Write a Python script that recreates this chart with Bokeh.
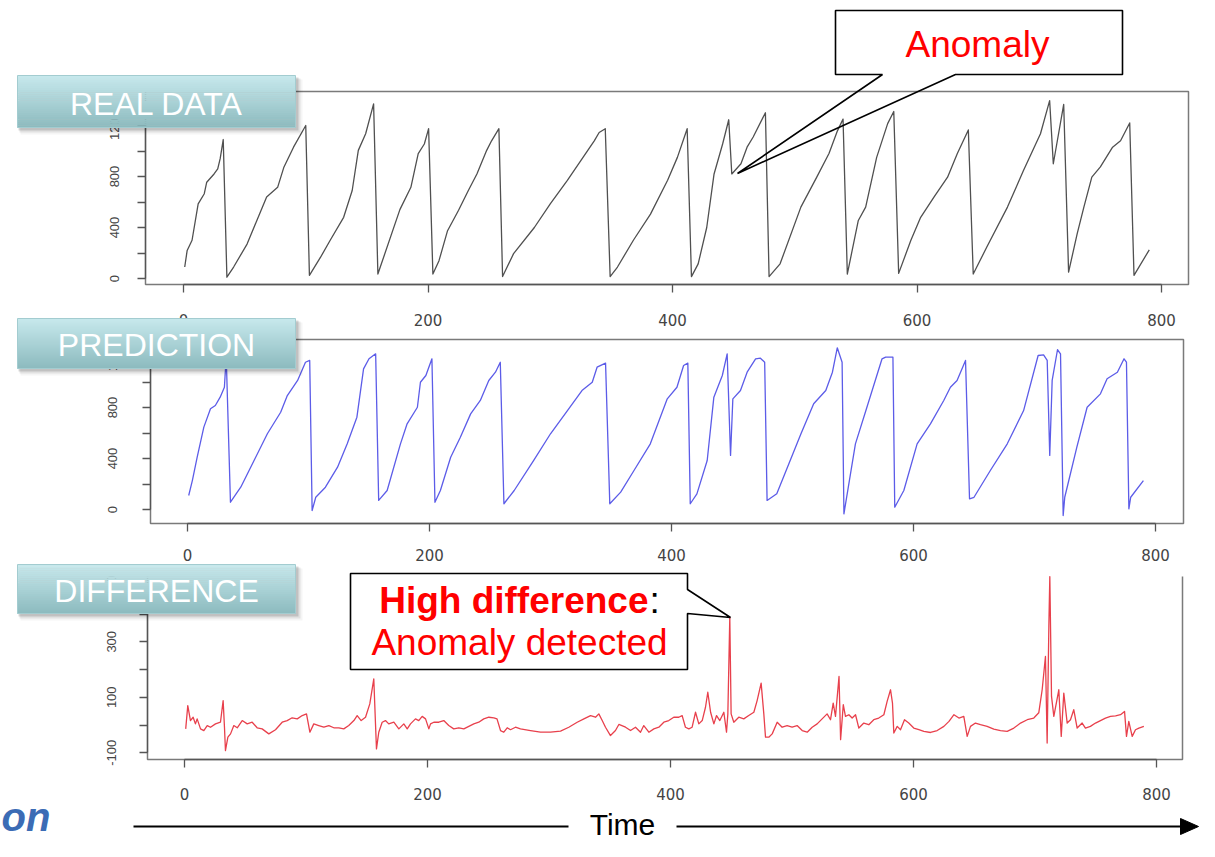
from bokeh.plotting import figure
from bokeh.models import Range1d, LinearAxis, FixedTicker
from bokeh.core.properties import value
from bokeh.embed import file_html
from bokeh.resources import INLINE

# ---------------- data ----------------
real_t = [1, 3, 7, 12, 17, 19, 25, 28, 30, 32.5, 35.5, 41, 52, 60, 68, 77, 82, 90, 100, 103, 112, 120, 131, 138,
          143, 149, 155.5, 159, 177, 186, 192, 197, 200.5, 204, 209, 216, 225, 233, 240, 248, 252, 258, 261, 270,
          287, 300, 314, 325, 336, 340, 345, 349, 355, 368, 382, 396, 404, 412, 415.5, 421, 428, 434, 441, 446,
          448.5, 456, 461, 466, 476, 479, 488, 505, 518, 528, 535, 539.5, 543, 552, 558, 567, 576, 581, 585, 595,
          603, 614, 625, 633, 642, 646, 657, 674, 687, 701, 708.5, 711.5, 720, 724, 731, 736.5, 743, 750, 760,
          766.5, 774, 777.5, 790]
real_v = [90, 220, 300, 585, 665, 755, 820, 860, 940, 1090, 10, 90, 270, 455, 640, 715, 870, 1030, 1200, 25, 165,
          300, 480, 690, 1005, 1135, 1370, 35, 540, 715, 980, 1055, 1175, 35, 140, 375, 535, 690, 820, 1005, 1080,
          1175, 15, 195, 400, 585, 770, 925, 1080, 1145, 1175, 15, 90, 300, 505, 770, 950, 1175, 15, 115, 400, 820,
          1055, 1245, 820, 900, 1030, 1110, 1300, 15, 115, 560, 795, 980, 1160, 1250, 35, 455, 560, 950, 1215,
          1310, 40, 300, 480, 640, 795, 980, 1165, 35, 245, 560, 845, 1135, 1395, 900, 1365, 50, 350, 560, 795,
          875, 1030, 1080, 1220, 25, 225]

pred_t = [1, 4, 8, 13.5, 19, 23, 27, 30.5, 32, 35.5, 44, 55, 66, 77, 82.5, 91, 97.5, 101, 103, 106, 114, 124, 132,
          140, 145.5, 150, 155.5, 158, 165, 176, 181.5, 190, 192.5, 197, 202, 204.5, 209, 217.5, 225.5, 234, 242,
          249, 254.5, 258.5, 261.5, 270, 286, 300, 314, 326, 334.5, 338.5, 345.5, 349, 358, 369, 382.5, 396.5,
          404.5, 410, 413.5, 415.5, 421, 429.5, 435, 442, 446, 448.8, 450.7, 457, 462.5, 469.5, 473.5, 477, 479,
          487, 507, 517.5, 527.5, 533, 537, 541, 542.5, 552, 561.5, 574, 577, 583, 584.5, 592, 603, 614, 625,
          630.5, 636, 643, 646.3, 650, 663.5, 677.5, 691, 703, 707.5, 710.5, 712.6, 714.6, 719, 721.5, 723.7, 725,
          735, 743.5, 754.5, 760, 768.5, 774, 776, 778, 779.5, 790]
pred_v = [110, 227, 410, 646, 790, 816, 881, 959, 1200, 57, 175, 384, 594, 763, 894, 1012, 1155, 1169, -8, 96,
          175, 332, 515, 724, 1103, 1182, 1221, 71, 149, 515, 672, 802, 998, 1051, 1182, 57, 149, 410, 567, 750,
          855, 1012, 1077, 1155, 45, 149, 384, 594, 776, 933, 998, 1116, 1148, 45, 136, 306, 515, 868, 959, 1129,
          1148, 45, 123, 384, 881, 1051, 1221, 424, 868, 933, 1077, 1182, 1187, 1155, 71, 123, 594, 829, 933,
          1077, 1268, 1155, -34, 515, 802, 1182, 1195, 1195, 18, 149, 515, 672, 855, 959, 1012, 1169, 84, 96, 306,
          515, 776, 1208, 1213, 1169, 424, 1012, 1253, 1221, -47, 96, 489, 802, 907, 1025, 1077, 1182, 1155, 5,
          96, 227]

diff_t = [1, 2.7, 4.9, 7.1, 9, 10.4, 13.2, 15.9, 18.7, 21.4, 25.5, 29.6, 31.8, 32.9, 33.7, 35.7, 37.9, 40.6, 43.4,
          47.5, 51.6, 55.7, 59.8, 63.9, 69.4, 74.9, 80.4, 84.5, 88.6, 92.8, 96.9, 100.4, 103.2, 106.4, 110.5,
          114.7, 118.8, 122.9, 127, 131.1, 135.2, 139.4, 142.1, 145.4, 149, 152.5, 155.8, 157.2, 158, 159.9, 162.7,
          165.4, 168.1, 172.3, 176.4, 180.5, 183.3, 186, 190.1, 192.8, 195.6, 198.4, 201.1, 202.5, 205.2, 209.3,
          213.4, 217.5, 221.6, 225.8, 229.9, 234, 238.1, 242.2, 246.3, 250.5, 254.6, 257.2, 260.1, 262.8, 265.6,
          268.3, 272.4, 276.5, 284.8, 293, 301.2, 309.5, 316.3, 323.2, 328.7, 334.2, 338.3, 341, 343.8, 346.5,
          350.6, 354.7, 357.5, 363, 367.1, 371.2, 375.3, 378, 382.2, 386.3, 390.4, 394.5, 398.6, 402.7, 406.8,
          409.6, 412.3, 415.1, 417.8, 420.6, 423.3, 426.1, 428.8, 430.7, 433, 435.7, 437.9, 440.6, 443.9, 446.1,
          447.2, 448.8, 449.9, 452.1, 456.2, 460.3, 464.4, 468.6, 471.3, 474.6, 476.8, 478.2, 480.9, 483.7, 487.8,
          491.9, 496, 500.1, 504.2, 508.4, 512.5, 516.6, 520.7, 524.8, 528.9, 531.7, 533.9, 535.8, 538.7, 540,
          542.2, 544, 546.8, 549.5, 552.3, 555, 559.1, 563.2, 567.3, 571.4, 575.6, 578.3, 581.1, 582.7, 583.8,
          586.6, 589.3, 592.6, 596.1, 600.2, 604.4, 608.5, 614, 619.5, 625, 629.2, 633.3, 637.4, 641.4, 644.2,
          646.9, 651, 655.1, 660.6, 666.1, 671.6, 677.1, 682.6, 688.1, 693.6, 699, 703.1, 705.9, 708.6, 710,
          711.4, 712.2, 713.6, 715.5, 719.6, 721.6, 723.7, 726.5, 729.2, 731.9, 734.7, 738.8, 741.5, 745.6, 749.8,
          753.9, 758, 762.1, 766.3, 770.4, 773.7, 775.3, 777.2, 780, 782.7, 785.5, 789.6]
diff_v = [-14, 70, 16, 28, 4, 22, -14, -20, -2, -8, 4, 10, 88, -8, -92, -44, -32, -2, -10, 16, 4, 10, -10, -14,
          -32, -17, 10, 16, 26, 22, 34, 40, -26, 4, -2, -8, -2, -10, -10, -14, -2, 16, 34, 16, 28, 76, 166, 4, -86,
          -26, 10, 16, 4, 10, -14, 4, -14, 4, 22, 16, 31, 22, -14, 4, 10, 10, 16, -2, -14, -10, -14, -5, 4, 10, 22,
          28, 26, 22, -20, -26, -10, -17, -8, -14, -20, -26, -26, -22, -8, 10, 22, 34, 28, 40, 16, -8, -38, -20, 2,
          -8, -20, -8, -26, -2, -26, -14, -8, 10, 16, 28, 28, 34, -8, -14, -8, 46, 4, 16, 64, 118, 46, 4, 34, 16,
          46, -26, 40, 388, 40, 10, 28, 22, 34, 46, 88, 151, 40, -44, -44, -32, 10, -8, -2, -8, -2, -20, -26, -8,
          4, 22, 40, 19, 79, 31, 175, -53, 73, 31, 37, 25, 37, -11, 7, 1, 19, 25, 37, 85, 127, 79, -29, -5, -17,
          19, 7, -11, -17, -23, -27, -20, -5, 13, 37, 25, 31, -41, -5, 7, 1, -5, -15, -20, -23, -11, 7, 19, 25, 44,
          127, 247, -65, 355, 535, 103, 31, 127, -41, 115, 7, 19, 55, -11, 7, -11, -5, 7, 16, 25, 31, 33, 37, 49,
          -41, 13, -41, -17, -11, -5]

x_ticks = [0, 200, 400, 600, 800]
main_y_ticks = [0, 200, 400, 600, 800, 1000, 1200]
main_y_labelled = [0, 400, 800, 1200]
diff_y_ticks = [-100, 0, 100, 200, 300, 400, 500]
diff_y_labelled = [-100, 100, 300, 500]
panel_titles = ["REAL DATA", "PREDICTION", "DIFFERENCE"]

# ---------------- canvas: default ranges are picture pixels ----------------
W, H = 1199, 841
FONT = value("Liberation Sans")

p = figure(width=W, height=H, x_range=Range1d(0, W), y_range=Range1d(H, 0),
           x_axis_type=None, y_axis_type=None, toolbar_location=None, tools="",
           output_backend="svg", min_border=0, outline_line_color=None)
p.background_fill_color = "white"
p.border_fill_color = "white"


def ty(baseline, fs):
    # Bokeh centres text vertically; shift so the alphabetic baseline lands where wanted
    return baseline - 0.3465 * fs


panels = [
    dict(t=real_t, v=real_v, color="#505050", xpx0=183, xk=1.2225, ypx0=278, yk=0.1275,
         left=145, right=1188, top=91, bottom=284, yt=main_y_ticks, yl=main_y_labelled, yb=(0, 1200),
         xs=21, ys=19, top_line=True),
    dict(t=pred_t, v=pred_v, color="#5c5ce8", xpx0=187, xk=1.21, ypx0=509, yk=0.1275,
         left=150, right=1183, top=339, bottom=523, yt=main_y_ticks, yl=main_y_labelled, yb=(0, 1200),
         xs=17, ys=26, top_line=True),
    dict(t=diff_t, v=diff_v, color="#e8404c", xpx0=184, xk=1.215, ypx0=724.5, yk=0.2775,
         left=147, right=1182, top=576, bottom=759, yt=diff_y_ticks, yl=diff_y_labelled, yb=(-100, 500),
         xs=20, ys=24, top_line=False),
]

xr, yr = {}, {}
for i, d in enumerate(panels):
    xr[f"x{i}"] = Range1d((0 - d["xpx0"]) / d["xk"], (W - d["xpx0"]) / d["xk"])
    yr[f"y{i}"] = Range1d((d["ypx0"] - H) / d["yk"], (d["ypx0"] - 0) / d["yk"])
p.extra_x_ranges = xr
p.extra_y_ranges = yr

FRAME = "#7a7a7a"
AXC = "#555555"
for i, d in enumerate(panels):
    if d["top_line"]:
        p.quad(left=d["left"], right=d["right"], top=d["top"], bottom=d["bottom"],
               fill_color=None, line_color=FRAME, line_width=1.5)
    else:
        p.line([d["left"], d["left"], d["right"], d["right"]], [d["top"], d["bottom"], d["bottom"], d["top"]],
               line_color=FRAME, line_width=1.5)
    p.line(d["t"], d["v"], x_range_name=f"x{i}", y_range_name=f"y{i}",
           line_color=d["color"], line_width=1.3, line_join="round")
    ax = LinearAxis(x_range_name=f"x{i}", fixed_location=d["bottom"], bounds=(0, 800),
                    ticker=FixedTicker(ticks=x_ticks))
    ay = LinearAxis(y_range_name=f"y{i}", fixed_location=d["left"], bounds=d["yb"],
                    ticker=FixedTicker(ticks=d["yt"]),
                    major_label_overrides={t: ("" if t not in d["yl"] else str(t)) for t in d["yt"]},
                    major_label_orientation="parallel")
    for a, fs, fnt in ((ax, "15px", "DejaVu Sans"), (ay, "13px", "Liberation Sans")):
        a.axis_line_color = AXC
        a.axis_line_width = 1.3
        a.major_tick_line_color = AXC
        a.major_tick_line_width = 1.3
        a.major_tick_out = 8
        a.major_tick_in = 0
        a.minor_tick_line_color = None
        a.major_label_text_font = fnt
        a.major_label_text_font_size = fs
        a.major_label_text_color = "#444444"
    ax.major_label_standoff = d["xs"]
    ay.major_label_standoff = d["ys"]
    p.add_layout(ax, "below")
    p.add_layout(ay, "left")


# ---------------- teal title boxes ----------------
def lerp(c0, c1, f):
    a = [int(c0[k:k + 2], 16) for k in (1, 3, 5)]
    b = [int(c1[k:k + 2], 16) for k in (1, 3, 5)]
    return "#%02x%02x%02x" % tuple(round(a[j] + (b[j] - a[j]) * f) for j in range(3))


boxes = [(75, 127, 115), (318, 368, 356), (564, 613, 602)]
BX0, BX1 = 17, 295
for (y0, y1, base), title in zip(boxes, panel_titles):
    p.quad(left=[BX0 + 1, BX0 + 2, BX0 + 3], right=[BX1 + 3, BX1 + 5, BX1 + 7],
           top=[y0 + 2, y0 + 3, y0 + 4], bottom=[y1 + 3, y1 + 5, y1 + 7],
           fill_color="black", fill_alpha=[0.14, 0.08, 0.04], line_color=None, level="overlay")
    n = 25
    h = (y1 - y0) / n
    tops = [y0 + k * h for k in range(n)]
    bots = [y0 + (k + 1) * h + 0.4 for k in range(n)]
    cols = [lerp("#c6e8ec", "#8dbbbf", k / (n - 1)) for k in range(n)]
    p.quad(left=BX0, right=BX1, top=tops, bottom=bots, fill_color=cols, line_color=None, level="overlay")
    p.quad(left=BX0, right=BX1, top=y0, bottom=y1, fill_color=None, line_color="#a3ccd0",
           line_width=1, level="overlay")
    p.text(x=[(BX0 + BX1) / 2], y=[ty(base, 32)], text=[title], text_align="center", text_baseline="alphabetic",
           text_color="white", text_font=FONT, text_font_size="32px", level="overlay")

# ---------------- call-outs ----------------
p.quad(left=835, right=1122, top=10, bottom=74, fill_color="white", line_color=None, level="overlay")
p.patch([835, 1122, 1122, 955, 737, 882, 835], [10, 10, 74, 74, 173, 74, 74],
        fill_color=None, line_color="black", line_width=1.6, level="overlay")
p.text(x=[977], y=[ty(57, 37)], text=["Anomaly"], text_align="center", text_baseline="alphabetic",
       text_color="#ff0000", text_font=FONT, text_font_size="37px", level="overlay")

p.quad(left=350, right=687, top=573, bottom=669, fill_color="white", line_color=None, level="overlay")
p.patch([350, 687, 687, 730, 687, 687, 350], [573, 573, 589, 617, 613, 669, 669],
        fill_color=None, line_color="black", line_width=1.6, level="overlay")
p.text(x=[648], y=[ty(613, 37)], text=["High difference"], text_align="right", text_baseline="alphabetic",
       text_color="#ff0000", text_font=FONT, text_font_style="bold", text_font_size="37px", level="overlay")
p.text(x=[649], y=[ty(613, 37)], text=[":"], text_align="left", text_baseline="alphabetic",
       text_color="black", text_font=FONT, text_font_size="37px", level="overlay")
p.text(x=[519], y=[ty(655, 37)], text=["Anomaly detected"], text_align="center", text_baseline="alphabetic",
       text_color="#ff0000", text_font=FONT, text_font_size="37px", level="overlay")

# ---------------- time arrow & footer (kept inside the 841px canvas) ----------------
AY = 826
p.multi_line(xs=[[133, 568], [676, 1182]], ys=[[AY, AY], [AY, AY]], line_color="black", line_width=2.2,
             level="overlay")
p.patch([1180, 1198, 1180], [AY - 8, AY, AY + 8], fill_color="black", line_color="black", level="overlay")
p.text(x=[622], y=[ty(834, 30)], text=["Time"], text_align="center", text_baseline="alphabetic",
       text_color="black", text_font=FONT, text_font_size="30px", level="overlay")
p.text(x=[1], y=[ty(830, 40)], text=["on"], text_align="left", text_baseline="alphabetic",
       text_color="#3b6cb5", text_font=FONT, text_font_style="bold italic", text_font_size="40px",
       level="overlay")

open("out.html", "w").write(file_html(p, INLINE))
